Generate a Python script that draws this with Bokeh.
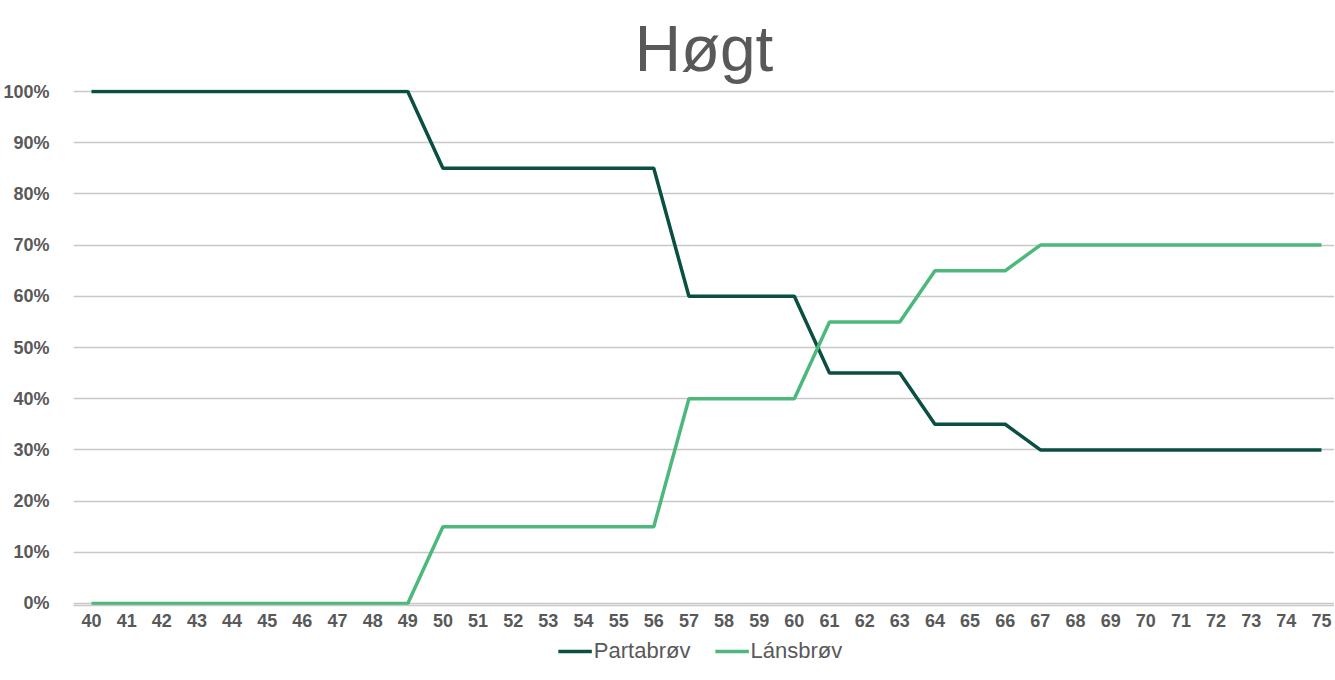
from bokeh.plotting import figure
from bokeh.layouts import column
from bokeh.models import (Range1d, FixedTicker, NumeralTickFormatter, Legend, LegendItem,
                          ColumnDataSource)
from bokeh.embed import file_html
from bokeh.resources import INLINE

ages = list(range(40, 76))
partabrov = [1.00]*10 + [0.85]*7 + [0.60]*4 + [0.45]*3 + [0.35]*3 + [0.30]*9
lansbrov = [0.00]*10 + [0.15]*7 + [0.40]*4 + [0.55]*3 + [0.65]*3 + [0.70]*9
series_names = ["Partabrøv", "Lánsbrøv"]
colors = ["#0b4f43", "#4cb87b"]
title_text = "Høgt"

FONT = "Liberation Sans"
GREY = "#595959"

src = ColumnDataSource(dict(x=ages, p=partabrov, l=lansbrov))

p = figure(frame_width=1261, frame_height=516,
           output_backend="svg", toolbar_location=None,
           x_range=Range1d(39.488, 75.37), y_range=Range1d(-0.004, 1.004),
           min_border_left=66, min_border_right=0, min_border_top=89, min_border_bottom=0)

p.title.text = title_text
p.title.align = "center"
p.title.text_font = FONT
p.title.text_font_size = "64px"
p.title.text_font_style = "normal"
p.title.text_color = GREY
p.title.standoff = 10

p.line("x", "p", source=src, line_color=colors[0], line_width=3.5)
p.line("x", "l", source=src, line_color=colors[1], line_width=3.5)

p.outline_line_color = None
p.background_fill_color = "white"
p.border_fill_color = "white"

p.xgrid.grid_line_color = None
p.ygrid.grid_line_color = "#c8c8c8"
p.ygrid.grid_line_width = 1.3

p.xaxis.ticker = FixedTicker(ticks=ages)
p.xaxis.major_tick_line_color = None
p.xaxis.minor_tick_line_color = None
p.xaxis.major_tick_out = 0
p.xaxis.major_tick_in = 0
p.xaxis.axis_line_color = "#c8c8c8"
p.xaxis.axis_line_width = 1.3
p.xaxis.major_label_text_font = FONT
p.xaxis.major_label_text_font_size = "18px"
p.xaxis.major_label_text_font_style = "bold"
p.xaxis.major_label_text_color = GREY
p.xaxis.major_label_standoff = 8

p.yaxis.ticker = FixedTicker(ticks=[i/10 for i in range(11)])
p.yaxis.formatter = NumeralTickFormatter(format="0%")
p.yaxis.major_tick_line_color = None
p.yaxis.minor_tick_line_color = None
p.yaxis.axis_line_color = None
p.yaxis.major_label_text_font = FONT
p.yaxis.major_label_text_font_size = "18px"
p.yaxis.major_label_text_font_style = "bold"
p.yaxis.major_label_text_color = GREY
p.yaxis.major_label_standoff = 18

# legend strip below the chart (its own line renderers sit outside the visible range)
p2 = figure(width=1327, height=44, output_backend="svg", toolbar_location=None,
            x_range=Range1d(0, 1), y_range=Range1d(0, 1), min_border=0)
p2.axis.visible = False
p2.grid.grid_line_color = None
p2.outline_line_color = None
l1 = p2.line(x=[-2, -1], y=[-2, -2], line_color=colors[0], line_width=3.5)
l2 = p2.line(x=[-2, -1], y=[-2, -2], line_color=colors[1], line_width=3.5)

legend = Legend(items=[LegendItem(label=series_names[0], renderers=[l1]),
                       LegendItem(label=series_names[1], renderers=[l2])],
                orientation="horizontal", location="center",
                label_text_font=FONT, label_text_font_size="22px", label_text_color=GREY,
                border_line_color=None, background_fill_alpha=0,
                glyph_width=34, glyph_height=18, label_standoff=2, spacing=24,
                padding=2, margin=0)
p2.add_layout(legend, "center")

layout = column(p, p2, spacing=0)
open("out.html", "w").write(file_html(layout, INLINE))
